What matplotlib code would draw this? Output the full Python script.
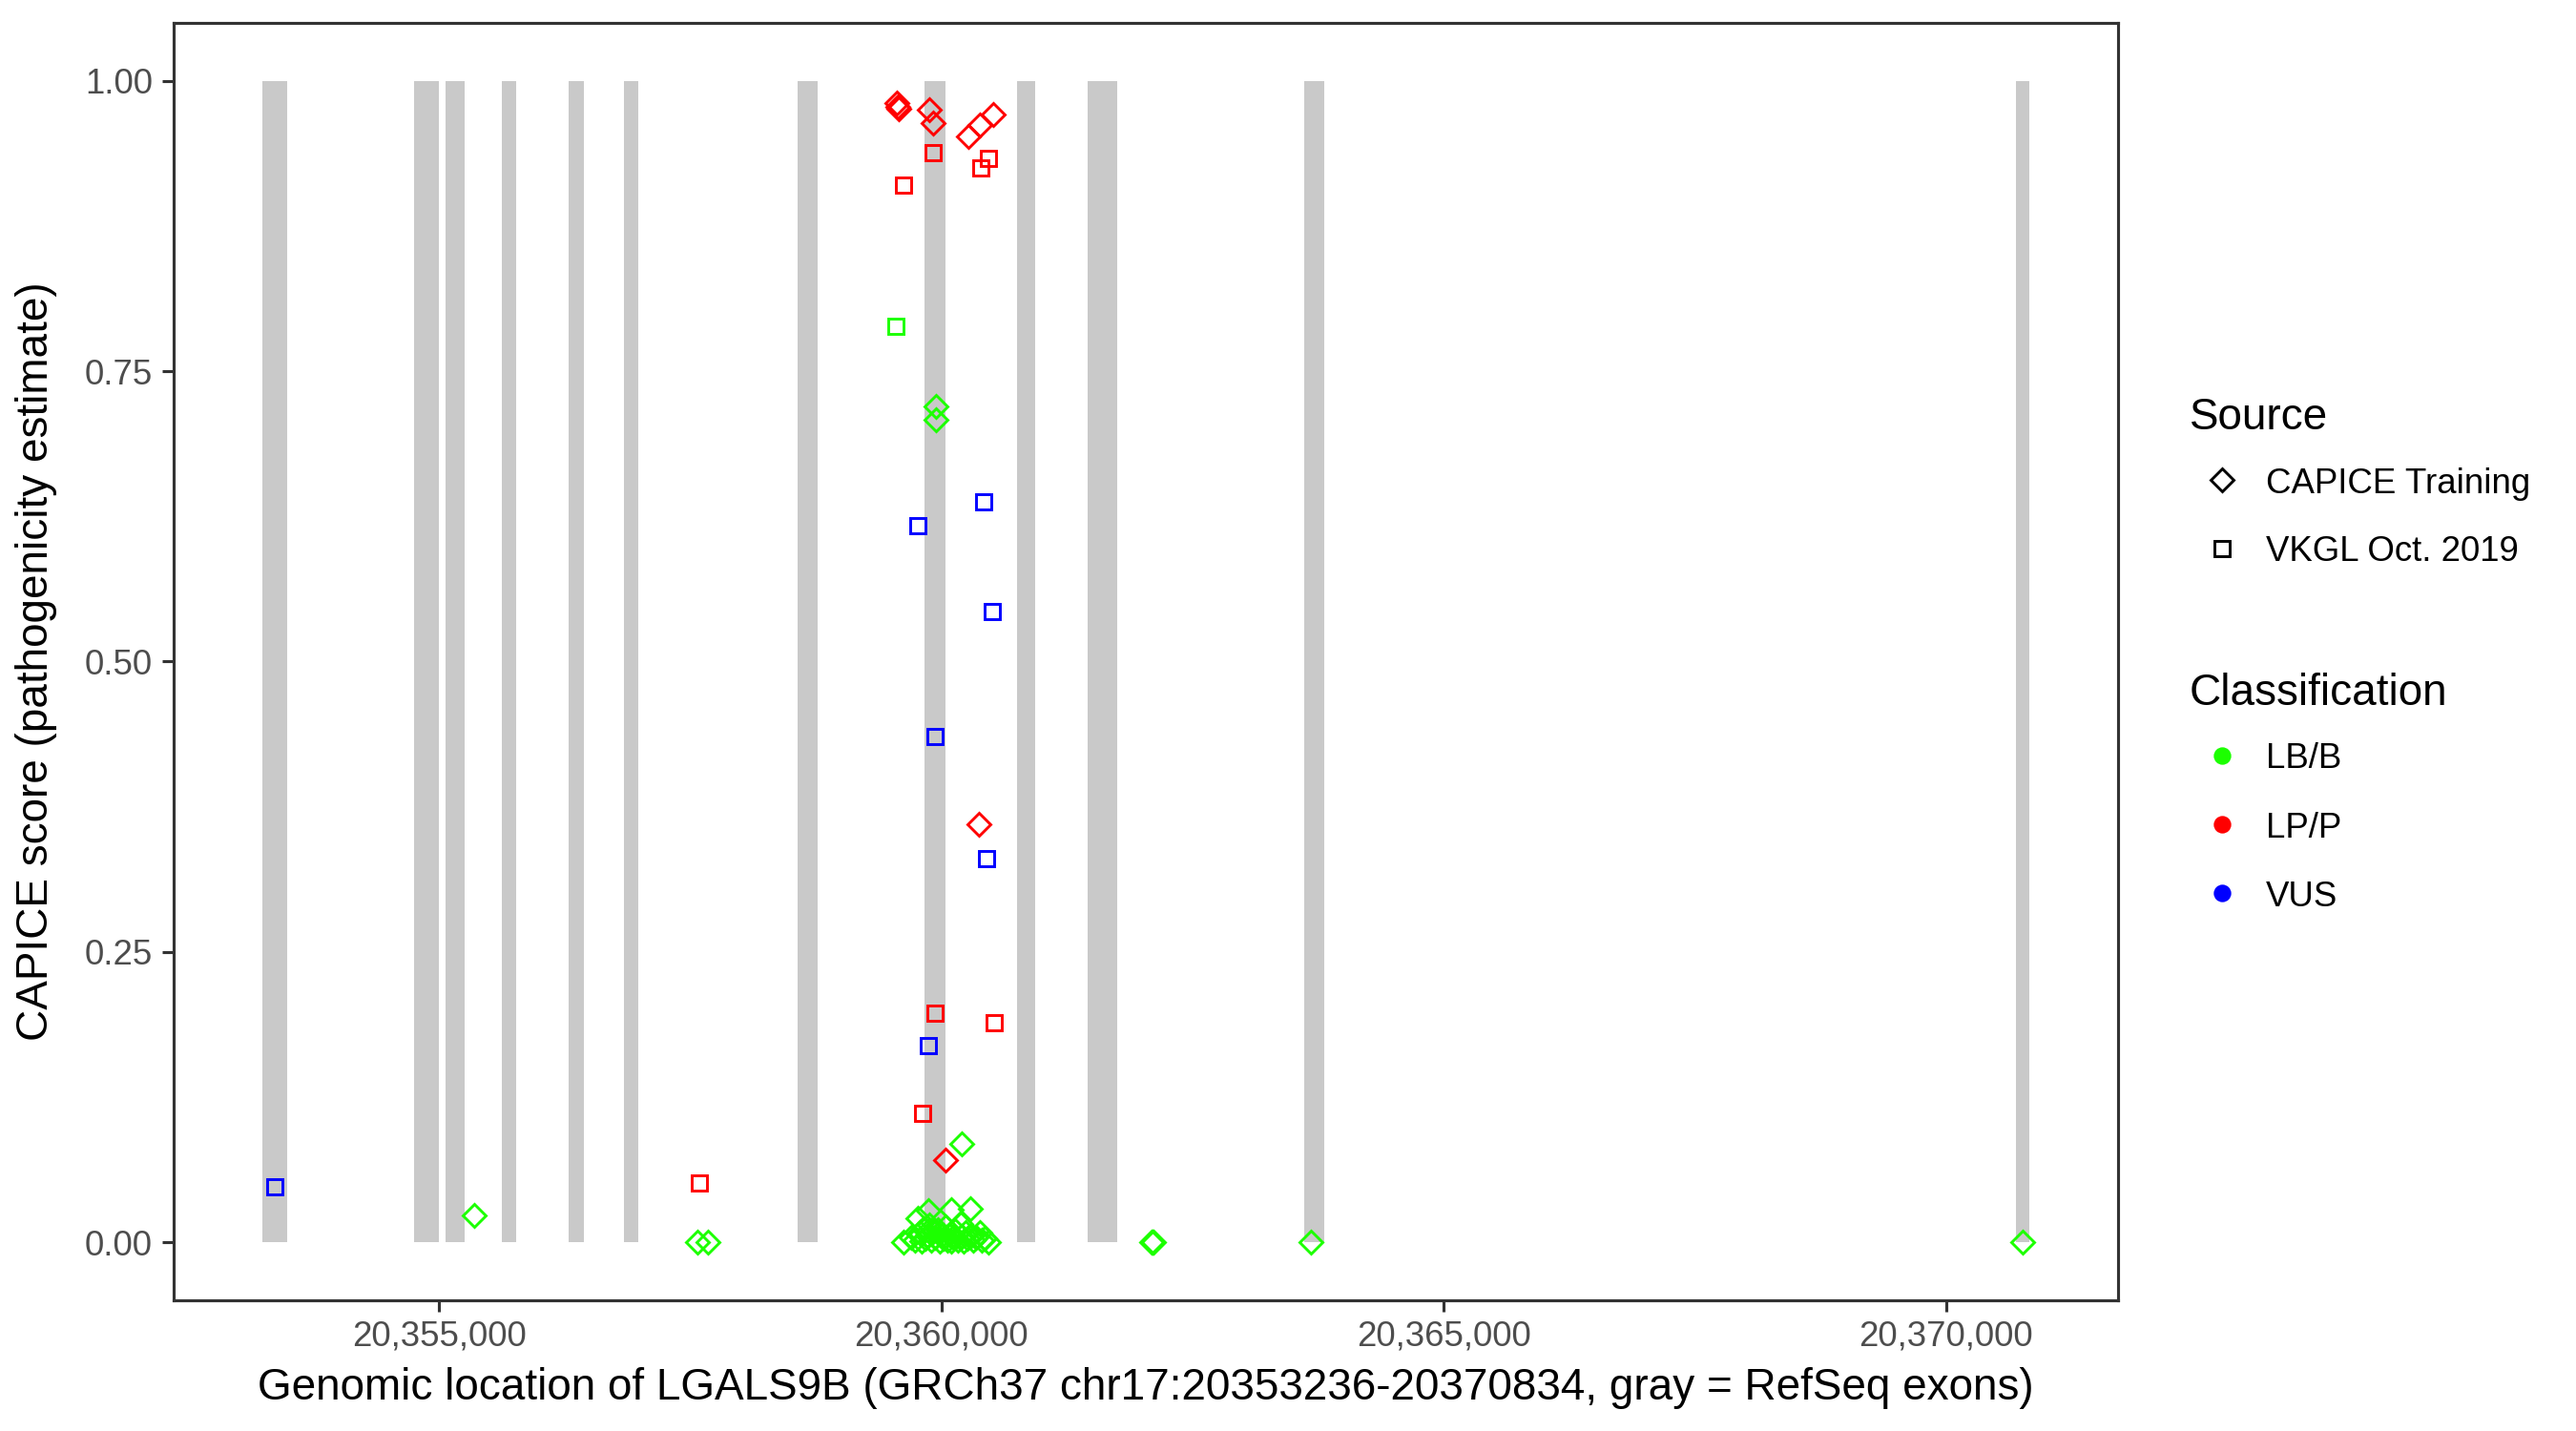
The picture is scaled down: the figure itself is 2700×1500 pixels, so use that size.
import matplotlib
matplotlib.use('Agg')
import matplotlib.pyplot as plt
from matplotlib.lines import Line2D
from matplotlib.ticker import FuncFormatter

plt.rcParams['font.family'] = ['Liberation Sans', 'DejaVu Sans']

# RefSeq exons of LGALS9B (start, end)
exon_start = [20353236, 20354753, 20355061, 20355623, 20356288, 20356838,
              20358572, 20359830, 20360750, 20361452, 20363615, 20370696]
exon_end = [20353490, 20355000, 20355254, 20355762, 20356439, 20356978,
            20358772, 20360041, 20360932, 20361749, 20363812, 20370834]

# CAPICE training variants (diamonds)
cap_pos = [20359560, 20359568, 20359574, 20359881, 20359913, 20360264,
           20360378, 20360520, 20360371, 20360039,
           20359942, 20359942, 20360203, 20355350, 20357568, 20357674,
           20362090, 20362100, 20362110, 20363679, 20370763,
           20359620, 20359700, 20359740, 20359762, 20359780, 20359800,
           20359820, 20359840, 20359860, 20359872, 20359880, 20359900,
           20359920, 20359940, 20359960, 20359980, 20360000, 20360020,
           20360040, 20360060, 20360093, 20360080, 20360100, 20360120,
           20360140, 20360160, 20360188, 20360200, 20360220, 20360240,
           20360260, 20360283, 20360300, 20360320, 20360340, 20360378,
           20360400, 20360430, 20360472]
cap_score = [0.981, 0.978, 0.976, 0.975, 0.964, 0.952,
             0.962, 0.971, 0.360, 0.0705,
             0.720, 0.708, 0.085, 0.023, 0.0, 0.0,
             0.0, 0.0, 0.0, 0.0, 0.0,
             0.000, 0.004, 0.002, 0.021, 0.008, 0.001,
             0.012, 0.003, 0.006, 0.027, 0.015, 0.002,
             0.009, 0.004, 0.011, 0.001, 0.006, 0.003,
             0.013, 0.002, 0.028, 0.007, 0.001, 0.004,
             0.010, 0.002, 0.016, 0.005, 0.001, 0.008,
             0.003, 0.029, 0.006, 0.002, 0.004, 0.008,
             0.002, 0.003, 0.000]
cap_class = ['LP/P'] * 10 + ['LB/B'] * 50

# VKGL Oct. 2019 variants (squares)
vkgl_pos = [20359913, 20359620, 20360466, 20360390, 20359938, 20360526,
            20359815, 20357590,
            20359547,
            20360421, 20359765, 20360510, 20359932, 20360453, 20359872,
            20353362]
vkgl_score = [0.938, 0.910, 0.933, 0.925, 0.197, 0.189,
              0.111, 0.051,
              0.789,
              0.638, 0.617, 0.543, 0.4355, 0.330, 0.169,
              0.048]
vkgl_class = ['LP/P'] * 8 + ['LB/B'] + ['VUS'] * 7

class_names = ['LB/B', 'LP/P', 'VUS']
class_colors = {'LB/B': '#1CFF00', 'LP/P': '#FF0000', 'VUS': '#0000FF'}
source_names = ['CAPICE Training', 'VKGL Oct. 2019']
source_markers = ['D', 's']

fig = plt.figure(figsize=(9, 5), dpi=300)
ax = fig.add_axes([182 / 2700, 1 - 1363 / 1500, (2220 - 182) / 2700, (1363 - 24) / 1500])

widths = [e - s for s, e in zip(exon_start, exon_end)]
ax.bar(exon_start, [1] * len(exon_start), width=widths, bottom=0, align='edge',
       color='#C9C9C9', linewidth=0, zorder=1)

ms = 4.0
mew = 0.7
for pos, score, cls, mk in [(vkgl_pos, vkgl_score, vkgl_class, 's'),
                            (cap_pos, cap_score, cap_class, 'D')]:
    for c in class_names:
        xs = [p for p, k in zip(pos, cls) if k == c]
        ys = [s for s, k in zip(score, cls) if k == c]
        if xs:
            ax.plot(xs, ys, ls='', marker=mk, ms=ms, mfc='none',
                    mec=class_colors[c], mew=mew, zorder=3)

span = exon_end[-1] - exon_start[0]
ax.set_xlim(exon_start[0] - 0.05 * span, exon_end[-1] + 0.05 * span)
ax.set_ylim(-0.05, 1.05)
ax.set_xticks([20355000, 20360000, 20365000, 20370000])
ax.xaxis.set_major_formatter(FuncFormatter(lambda v, p: f'{int(v):,}'))
ax.set_yticks([0, 0.25, 0.5, 0.75, 1.0])
ax.set_yticklabels(['0.00', '0.25', '0.50', '0.75', '1.00'])

for sp in ax.spines.values():
    sp.set_color('#333333')
    sp.set_linewidth(0.75)
ax.tick_params(axis='both', length=2.9, width=0.75, color='#333333',
               labelcolor='#4D4D4D', labelsize=8.8)
ax.tick_params(axis='x', pad=2.0)
ax.tick_params(axis='y', pad=2.4)

ax.set_xlabel('Genomic location of LGALS9B (GRCh37 chr17:20353236-20370834, gray = RefSeq exons)',
              fontsize=11, va='center')
ax.xaxis.set_label_coords(0.5, (1363 - 1455) / 1339)
ax.set_ylabel('CAPICE score (pathogenicity estimate)', fontsize=11, va='center')
ax.yaxis.set_label_coords((38 - 182) / 2038, 0.5)

# legends
def fx(px):
    return px / 2700

def fy(py):
    return 1 - py / 1500

key_x = 2329
text_x = 2375
dy = 4
fig.text(fx(2295), fy(434 + dy), 'Source', fontsize=11, va='center', ha='left')
for name, mk, yy in zip(source_names, source_markers, [503, 575]):
    fig.add_artist(Line2D([fx(key_x)], [fy(yy)], transform=fig.transFigure, ls='',
                          marker=mk, ms=ms, mfc='none', mec='black', mew=mew))
    fig.text(fx(text_x), fy(yy + dy), name, fontsize=8.8, va='center', ha='left')

fig.text(fx(2295), fy(723 + dy), 'Classification', fontsize=11, va='center', ha='left')
for name, yy in zip(class_names, [792, 864, 936]):
    fig.add_artist(Line2D([fx(key_x)], [fy(yy)], transform=fig.transFigure, ls='',
                          marker='o', ms=4.4, mfc=class_colors[name], mec='none'))
    fig.text(fx(text_x), fy(yy + dy), name, fontsize=8.8, va='center', ha='left')

fig.savefig('out.png', dpi=300, facecolor='white')
